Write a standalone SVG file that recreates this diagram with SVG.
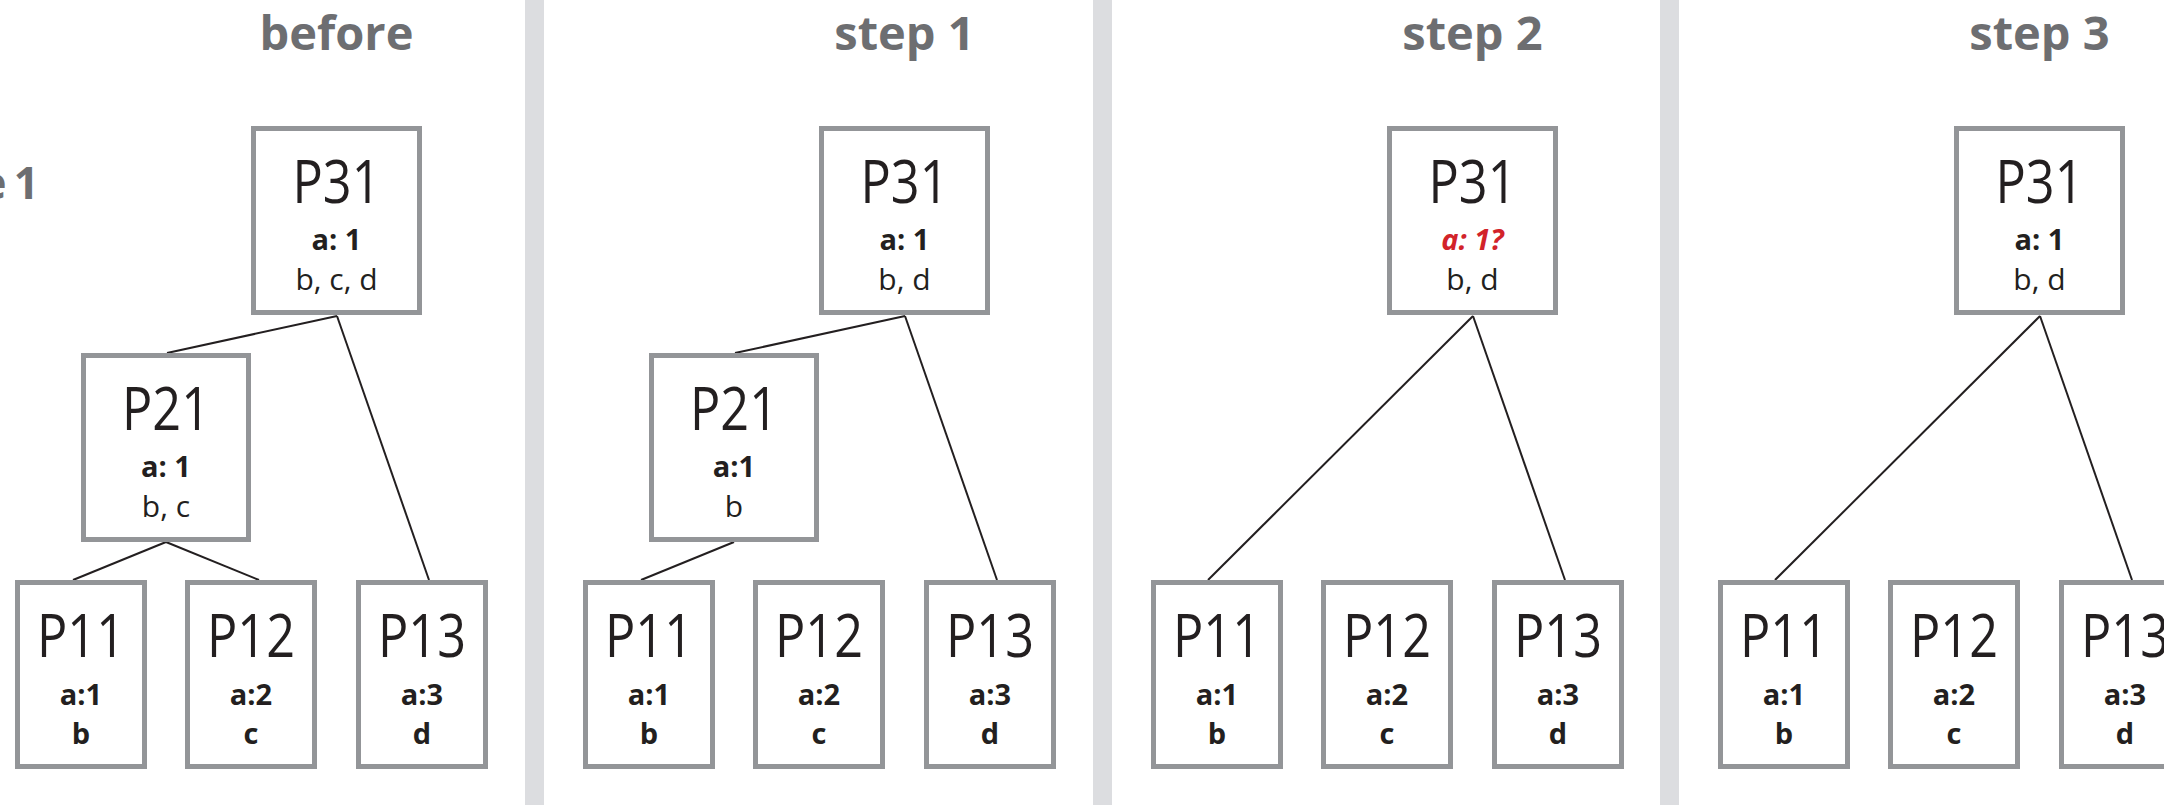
<svg xmlns="http://www.w3.org/2000/svg" width="2164" height="805" viewBox="0 0 2164 805">
<style>
.bg{fill:#ffffff}
.div{fill:#dcdde0}
.box{fill:#ffffff;stroke:#939598;stroke-width:5}
.title{font-family:"Open Sans","Liberation Sans",sans-serif;font-weight:700;font-size:47px;fill:#6d6e71;text-anchor:middle}
.side{font-family:"Open Sans","Liberation Sans",sans-serif;font-weight:700;font-size:44px;fill:#6d6e71;text-anchor:end;word-spacing:-4px}
.big{font-family:"Open Sans","Liberation Sans",sans-serif;font-size:61px;fill:#231f20;text-anchor:middle}
.key{font-family:"Open Sans","Liberation Sans",sans-serif;font-weight:700;font-size:29px;fill:#231f20;text-anchor:middle}
.red{font-family:"Open Sans","Liberation Sans",sans-serif;font-weight:700;font-style:italic;font-size:29px;fill:#d2232a;text-anchor:middle}
.val{font-family:"Open Sans","Liberation Sans",sans-serif;font-size:30px;fill:#231f20;text-anchor:middle}
.edge{stroke:#231f20;stroke-width:2;fill:none}
</style>
<rect class="bg" x="0" y="0" width="2164" height="805"/>
<g id="dividers">
<rect class="div" x="525" y="0" width="19" height="805"/>
<rect class="div" x="1093" y="0" width="19" height="805"/>
<rect class="div" x="1660" y="0" width="19" height="805"/>
</g>
<g id="titles">
<text class="side" x="39" y="199">e 1</text>
<text class="title" x="336.5" y="50">before</text>
<text class="title" x="904.5" y="50">step 1</text>
<text class="title" x="1472.5" y="50">step 2</text>
<text class="title" x="2039.5" y="50">step 3</text>
</g>
<g id="connectors">
<line class="edge" x1="337" y1="316" x2="167" y2="353"/>
<line class="edge" x1="337" y1="316" x2="429" y2="580"/>
<line class="edge" x1="166" y1="542" x2="73" y2="580"/>
<line class="edge" x1="166" y1="542" x2="259" y2="580"/>
<line class="edge" x1="905" y1="316" x2="735" y2="353"/>
<line class="edge" x1="905" y1="316" x2="997" y2="580"/>
<line class="edge" x1="734" y1="542" x2="641" y2="580"/>
<line class="edge" x1="1473" y1="316" x2="1208" y2="580"/>
<line class="edge" x1="1473" y1="316" x2="1565" y2="580"/>
<line class="edge" x1="2040" y1="316" x2="1775" y2="580"/>
<line class="edge" x1="2040" y1="316" x2="2132" y2="580"/>
</g>
<!-- before -->
<g id="before-P31"><rect class="box" x="253.5" y="128.5" width="166" height="184"/>
<text class="big" x="336.5" y="203" textLength="88" lengthAdjust="spacingAndGlyphs">P31</text>
<text class="key" x="336.5" y="250">a: 1</text><text class="val" x="336.5" y="290">b, c, d</text></g>
<g id="before-P21"><rect class="box" x="83.5" y="355.5" width="165" height="184"/>
<text class="big" x="166" y="430" textLength="88" lengthAdjust="spacingAndGlyphs">P21</text>
<text class="key" x="166" y="477">a: 1</text><text class="val" x="166" y="517">b, c</text></g>
<g id="before-P11"><rect class="box" x="17.5" y="582.5" width="127" height="184"/>
<text class="big" x="81" y="657" textLength="88" lengthAdjust="spacingAndGlyphs">P11</text>
<text class="key" x="81" y="705">a:1</text><text class="key" x="81" y="744">b</text></g>
<g id="before-P12"><rect class="box" x="187.5" y="582.5" width="127" height="184"/>
<text class="big" x="251" y="657" textLength="88" lengthAdjust="spacingAndGlyphs">P12</text>
<text class="key" x="251" y="705">a:2</text><text class="key" x="251" y="744">c</text></g>
<g id="before-P13"><rect class="box" x="358.5" y="582.5" width="127" height="184"/>
<text class="big" x="422" y="657" textLength="88" lengthAdjust="spacingAndGlyphs">P13</text>
<text class="key" x="422" y="705">a:3</text><text class="key" x="422" y="744">d</text></g>
<!-- step 1 -->
<g id="step1-P31"><rect class="box" x="821.5" y="128.5" width="166" height="184"/>
<text class="big" x="904.5" y="203" textLength="88" lengthAdjust="spacingAndGlyphs">P31</text>
<text class="key" x="904.5" y="250">a: 1</text><text class="val" x="904.5" y="290">b, d</text></g>
<g id="step1-P21"><rect class="box" x="651.5" y="355.5" width="165" height="184"/>
<text class="big" x="734" y="430" textLength="88" lengthAdjust="spacingAndGlyphs">P21</text>
<text class="key" x="734" y="477">a:1</text><text class="val" x="734" y="517">b</text></g>
<g id="step1-P11"><rect class="box" x="585.5" y="582.5" width="127" height="184"/>
<text class="big" x="649" y="657" textLength="88" lengthAdjust="spacingAndGlyphs">P11</text>
<text class="key" x="649" y="705">a:1</text><text class="key" x="649" y="744">b</text></g>
<g id="step1-P12"><rect class="box" x="755.5" y="582.5" width="127" height="184"/>
<text class="big" x="819" y="657" textLength="88" lengthAdjust="spacingAndGlyphs">P12</text>
<text class="key" x="819" y="705">a:2</text><text class="key" x="819" y="744">c</text></g>
<g id="step1-P13"><rect class="box" x="926.5" y="582.5" width="127" height="184"/>
<text class="big" x="990" y="657" textLength="88" lengthAdjust="spacingAndGlyphs">P13</text>
<text class="key" x="990" y="705">a:3</text><text class="key" x="990" y="744">d</text></g>
<!-- step 2 -->
<g id="step2-P31"><rect class="box" x="1389.5" y="128.5" width="166" height="184"/>
<text class="big" x="1472.5" y="203" textLength="88" lengthAdjust="spacingAndGlyphs">P31</text>
<text class="red" x="1472.5" y="250">a: 1?</text><text class="val" x="1472.5" y="290">b, d</text></g>
<g id="step2-P11"><rect class="box" x="1153.5" y="582.5" width="127" height="184"/>
<text class="big" x="1217" y="657" textLength="88" lengthAdjust="spacingAndGlyphs">P11</text>
<text class="key" x="1217" y="705">a:1</text><text class="key" x="1217" y="744">b</text></g>
<g id="step2-P12"><rect class="box" x="1323.5" y="582.5" width="127" height="184"/>
<text class="big" x="1387" y="657" textLength="88" lengthAdjust="spacingAndGlyphs">P12</text>
<text class="key" x="1387" y="705">a:2</text><text class="key" x="1387" y="744">c</text></g>
<g id="step2-P13"><rect class="box" x="1494.5" y="582.5" width="127" height="184"/>
<text class="big" x="1558" y="657" textLength="88" lengthAdjust="spacingAndGlyphs">P13</text>
<text class="key" x="1558" y="705">a:3</text><text class="key" x="1558" y="744">d</text></g>
<!-- step 3 -->
<g id="step3-P31"><rect class="box" x="1956.5" y="128.5" width="166" height="184"/>
<text class="big" x="2039.5" y="203" textLength="88" lengthAdjust="spacingAndGlyphs">P31</text>
<text class="key" x="2039.5" y="250">a: 1</text><text class="val" x="2039.5" y="290">b, d</text></g>
<g id="step3-P11"><rect class="box" x="1720.5" y="582.5" width="127" height="184"/>
<text class="big" x="1784" y="657" textLength="88" lengthAdjust="spacingAndGlyphs">P11</text>
<text class="key" x="1784" y="705">a:1</text><text class="key" x="1784" y="744">b</text></g>
<g id="step3-P12"><rect class="box" x="1890.5" y="582.5" width="127" height="184"/>
<text class="big" x="1954" y="657" textLength="88" lengthAdjust="spacingAndGlyphs">P12</text>
<text class="key" x="1954" y="705">a:2</text><text class="key" x="1954" y="744">c</text></g>
<g id="step3-P13"><rect class="box" x="2061.5" y="582.5" width="127" height="184"/>
<text class="big" x="2125" y="657" textLength="88" lengthAdjust="spacingAndGlyphs">P13</text>
<text class="key" x="2125" y="705">a:3</text><text class="key" x="2125" y="744">d</text></g>
</svg>
